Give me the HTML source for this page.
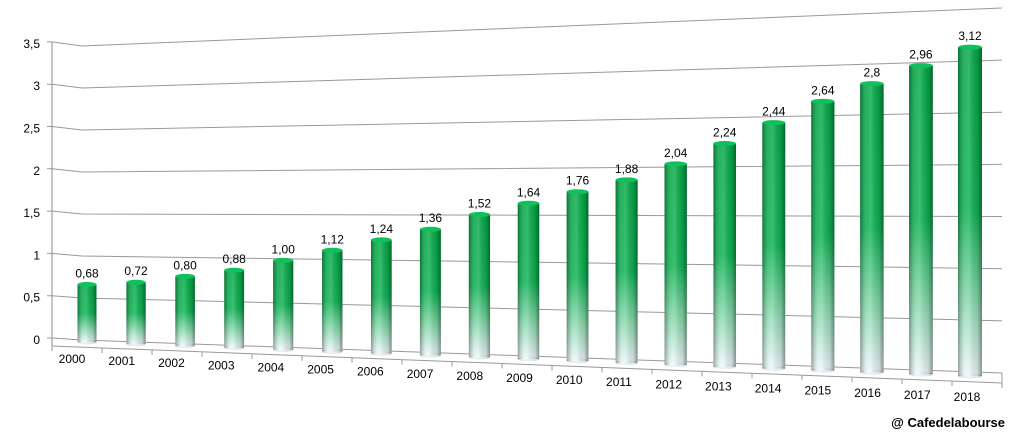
<!DOCTYPE html>
<html><head><meta charset="utf-8"><style>
html,body{margin:0;padding:0;background:#fff;width:1021px;height:440px;overflow:hidden}
svg{display:block;font-family:"Liberation Sans",sans-serif}
</style></head><body>
<svg id="chart" width="1021" height="440" viewBox="0 0 1021 440" xmlns="http://www.w3.org/2000/svg">
<defs>
<linearGradient id="vert" x1="0" y1="0" x2="0" y2="1">
<stop offset="0" stop-color="#06aa48"/>
<stop offset="0.5" stop-color="#10b254"/>
<stop offset="0.75" stop-color="#7fd6a6"/>
<stop offset="1" stop-color="#eef6fa"/>
</linearGradient>
<linearGradient id="shade" x1="0" y1="0" x2="1" y2="0">
<stop offset="0" stop-color="#000" stop-opacity="0.35"/>
<stop offset="0.3" stop-color="#fff" stop-opacity="0.12"/>
<stop offset="0.45" stop-color="#fff" stop-opacity="0.18"/>
<stop offset="0.8" stop-color="#000" stop-opacity="0.1"/>
<stop offset="1" stop-color="#000" stop-opacity="0.4"/>
</linearGradient>
</defs>
<g id="grid"></g>
<g id="bars"></g>
<g id="labels"></g>
<text x="1005" y="427" text-anchor="end" font-size="13" font-weight="bold" fill="#000">@ Cafedelabourse</text>
</svg>
<script>
const years=["2000","2001","2002","2003","2004","2005","2006","2007","2008","2009","2010","2011","2012","2013","2014","2015","2016","2017","2018"];
const values=[0.68,0.72,0.80,0.88,1.00,1.12,1.24,1.36,1.52,1.64,1.76,1.88,2.04,2.24,2.44,2.64,2.8,2.96,3.12];
const valueLabels=["0,68","0,72","0,80","0,88","1,00","1,12","1,24","1,36","1,52","1,64","1,76","1,88","2,04","2,24","2,44","2,64","2,8","2,96","3,12"];
const ticks=[0,0.5,1,1.5,2,2.5,3,3.5];
const tickLabels=["0","0,5","1","1,5","2","2,5","3","3,5"];
const NS="http://www.w3.org/2000/svg";
function mk(t,a,p){const e=document.createElementNS(NS,t);for(const k in a)e.setAttribute(k,a[k]);p.appendChild(e);return e;}
function wallY(x,v){const f=(x-82)/(1002-82);const y0=340+f*(373-340);const s=84+f*(104.3-84);return y0-v*s;}
const g=document.getElementById('grid');
let axis=mk('line',{x1:52,y1:42,x2:52,y2:347,stroke:'#888','stroke-width':1},g);


ticks.forEach((v,i)=>{
  const yl=338-v*84.6, ym=wallY(82,v);
  const pl=mk('polyline',{points:`47,${yl} 52,${yl} 82,${ym} 1002,${wallY(1002,v)}`,fill:'none',stroke:'#999','stroke-width':1},g);
  
  
  const t=mk('text',{x:40,y:yl+6,'text-anchor':'end','font-size':12,fill:'#000'},g);
  t.textContent=tickLabels[i];
  
  
});
const fl=mk('polyline',{points:'52,346 1002,383 1002,373',fill:'none',stroke:'#999','stroke-width':1},g);


const n=years.length;
for(let i=0;i<=n;i++){
  const x=52+i*(950/n), y=346+(x-52)*37/950;
  const tk=mk('line',{x1:x,y1:y,x2:x,y2:y+5,stroke:'#999'},g);
  
  
}
const b=document.getElementById('bars'), L=document.getElementById('labels');
function barX(i){return 87+i*(970-87)/(n-1);}
function barBase(i){return 342+i*(376-342)/(n-1);}
function barScale(i){return 84.5+i*(105.4-84.5)/(n-1);}
values.forEach((v,i)=>{
  const cx=barX(i), base=barBase(i), s=barScale(i), w=19+i*5/(n-1), top=base-v*s, ry=2.5;
  const grp=mk('g',{},b);
  
  
  mk('ellipse',{cx:cx,cy:base,rx:w/2,ry:ry,fill:'#e8f2f6'},grp);
  mk('rect',{x:cx-w/2,y:top,width:w,height:base-top,fill:'url(#vert)'},grp);
  mk('rect',{x:cx-w/2,y:top,width:w,height:base-top,fill:'url(#shade)'},grp);
  mk('ellipse',{cx:cx,cy:base,rx:w/2,ry:ry,fill:'url(#shade)',opacity:0.5},grp);
  mk('ellipse',{cx:cx,cy:top,rx:w/2,ry:ry,fill:'#0fc05c'},grp);
  const t=mk('text',{x:cx,y:top-7,'text-anchor':'middle','font-size':12,fill:'#000'},L);
  t.textContent=valueLabels[i];
  
  
  const lx=72+i*(967-72)/(n-1), ly=363+i*(401-363)/(n-1);
  const yt=mk('text',{x:lx,y:ly,'text-anchor':'middle','font-size':12,fill:'#000'},L);
  yt.textContent=years[i];
  
  
});
</script>
</body></html>
